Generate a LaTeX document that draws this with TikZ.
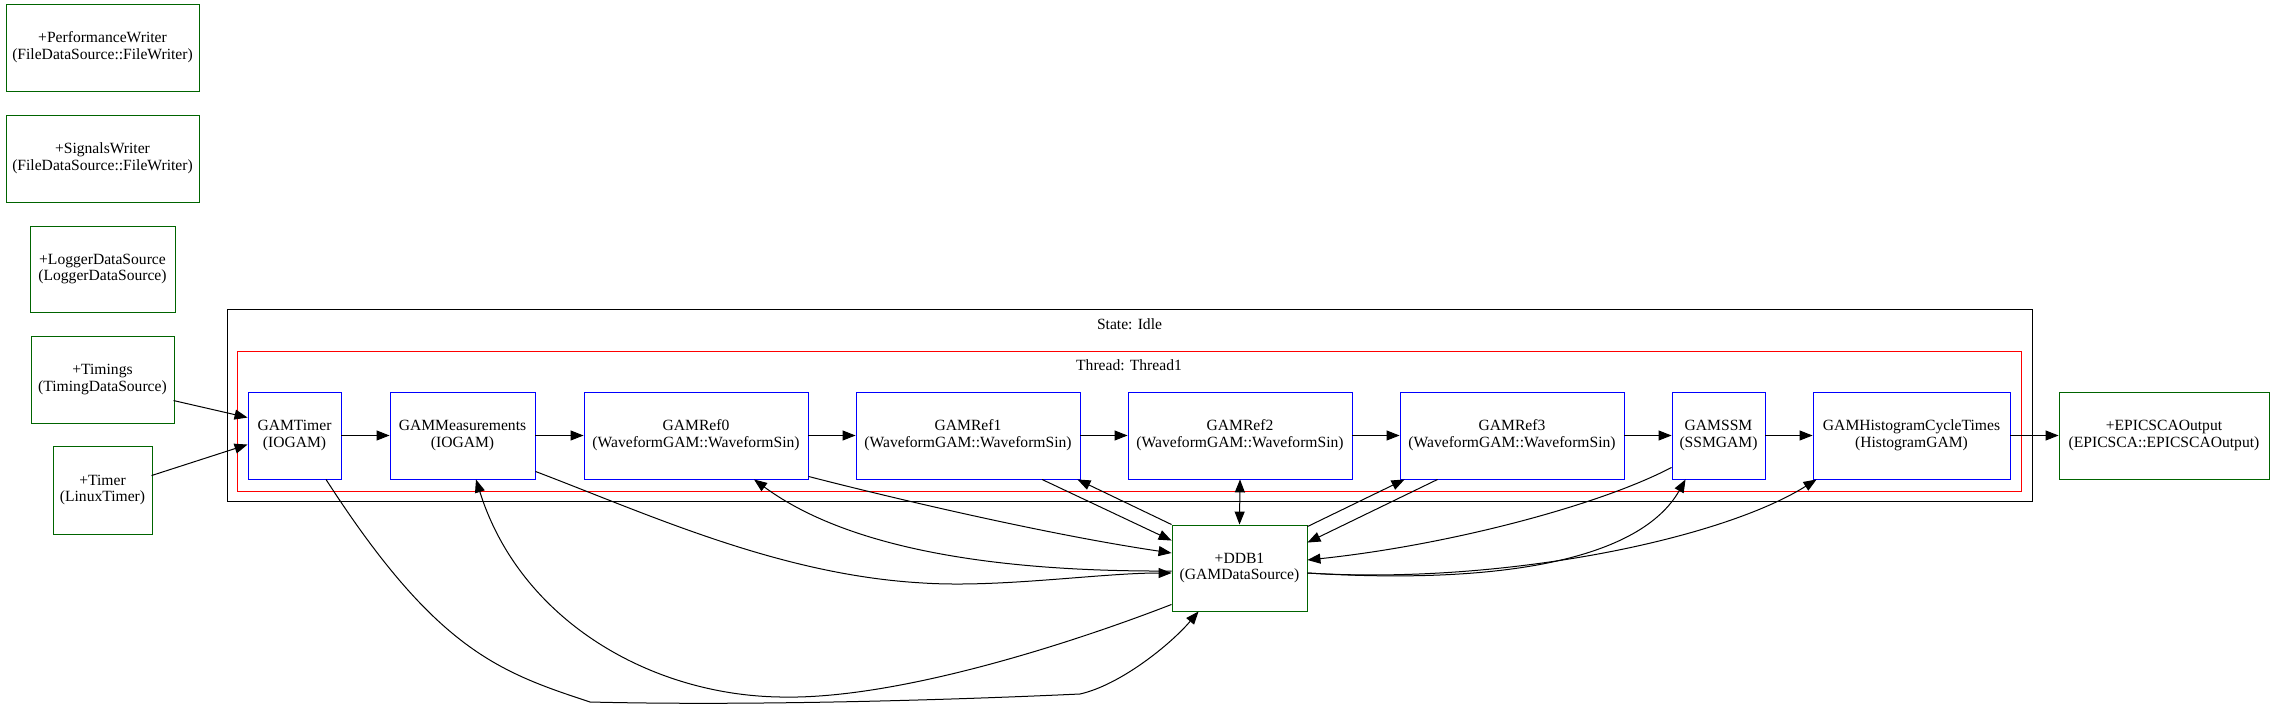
\documentclass[tikz,border=0pt]{standalone}
\usepackage{fontspec}
\setmainfont{Liberation Serif}
\usetikzlibrary{arrows.meta,calc}
\definecolor{dgreen}{HTML}{006400}
\begin{document}
\begin{tikzpicture}[x=1pt,y=-1pt,
  box/.style={draw, rectangle, inner sep=0pt, align=center, line width=0.9pt, font=\fontsize{15.6}{16.8}\selectfont},
  ds/.style={box, draw=dgreen},
  gam/.style={box, draw=blue, minimum height=87pt},
  frame/.style={draw, rectangle, inner sep=0pt, line width=0.9pt},
  lbl/.style={inner sep=0pt, font=\fontsize{15.6}{16.8}\selectfont},
  tip/.tip={Triangle[length=13pt,width=10pt]},
  edge/.style={line width=1pt, -tip},
]
\useasboundingbox[fill=white] (0,0) rectangle (2275,711);

% data sources on the left
\node[ds, minimum width=193pt, minimum height=87pt] (perf) at (102.5,47.5) {+PerformanceWriter\\(FileDataSource::FileWriter)};
\node[ds, minimum width=193pt, minimum height=87pt] (signals) at (102.5,158.5) {+SignalsWriter\\(FileDataSource::FileWriter)};
\node[ds, minimum width=145pt, minimum height=86pt] (logger) at (102.5,269) {+LoggerDataSource\\(LoggerDataSource)};
\node[ds, minimum width=143pt, minimum height=87pt] (timings) at (102.5,379.5) {+Timings\\(TimingDataSource)};
\node[ds, minimum width=99pt, minimum height=88pt] (timer) at (102.5,490) {+Timer\\(LinuxTimer)};

% clusters
\node[frame, minimum width=1805pt, minimum height=192pt] (state) at (1129.5,405) {};
\node[lbl] (statelbl) at (1129.5,324) {State: Idle};
\node[frame, draw=red, minimum width=1784pt, minimum height=140pt] (thread) at (1129,421) {};
\node[lbl] (threadlbl) at (1129,365) {Thread: Thread1};

% GAMs
\node[gam, minimum width=93pt] (gamtimer) at (294.5,435.5) {GAMTimer\\(IOGAM)};
\node[gam, minimum width=145pt] (gammeas) at (462.5,435.5) {GAMMeasurements\\(IOGAM)};
\node[gam, minimum width=224pt] (ref0) at (696,435.5) {GAMRef0\\(WaveformGAM::WaveformSin)};
\node[gam, minimum width=224pt] (ref1) at (968,435.5) {GAMRef1\\(WaveformGAM::WaveformSin)};
\node[gam, minimum width=224pt] (ref2) at (1240,435.5) {GAMRef2\\(WaveformGAM::WaveformSin)};
\node[gam, minimum width=224pt] (ref3) at (1512,435.5) {GAMRef3\\(WaveformGAM::WaveformSin)};
\node[gam, minimum width=93pt] (ssm) at (1718.5,435.5) {GAMSSM\\(SSMGAM)};
\node[gam, minimum width=197pt] (hist) at (1911.5,435.5) {GAMHistogramCycleTimes\\(HistogramGAM)};

\node[ds, minimum width=210pt, minimum height=87pt] (epics) at (2164,435.5) {+EPICSCAOutput\\(EPICSCA::EPICSCAOutput)};
\node[ds, minimum width=135pt, minimum height=86pt] (ddb) at (1239.5,568) {+DDB1\\(GAMDataSource)};

% inputs
\draw[edge] ($(timings.north west)+(143,65)$) -- ($(gamtimer.north west)+(0,26)$);
\draw[edge] ($(timer.north west)+(99,30)$) -- ($(gamtimer.north west)+(0,53)$);

% chain
\draw[edge] (gamtimer.east) -- (gammeas.west);
\draw[edge] (gammeas.east) -- (ref0.west);
\draw[edge] (ref0.east) -- (ref1.west);
\draw[edge] (ref1.east) -- (ref2.west);
\draw[edge] (ref2.east) -- (ref3.west);
\draw[edge] (ref3.east) -- (ssm.west);
\draw[edge] (ssm.east) -- (hist.west);
\draw[edge] (hist.east) -- (epics.west);

% DDB1 connections
\draw[edge] ($(gamtimer.south)+(31.5,0)$) .. controls (436,650) and (499,672) .. (590,702)
  .. controls (750,706) and (950,700) .. (1080,694)
  .. controls (1120,685) and (1170,645) .. ($(ddb.south west)+(27,0)$);
\draw[edge] ($(ddb.south west)+(0,-7)$) .. controls (1080,640) and (900,700) .. (780,697)
  .. controls (650,695) and (520,620) .. ($(gammeas.south)+(13.5,0)$);
\draw[edge] ($(gammeas.south east)+(0,-8)$) .. controls (650,515) and (780,575) .. (923,583)
  .. controls (1000,588) and (1100,573) .. ($(ddb.west)+(0,5)$);
\draw[edge] ($(ddb.west)+(0,3)$) .. controls (1000,572) and (850,550) .. ($(ref0.south)+(58,0)$);
\draw[edge] ($(ref0.south east)+(0,-3)$) .. controls (900,500) and (1050,535) .. ($(ddb.west)+(0,-15)$);
\draw[edge] ($(ref1.south)+(74,0)$) -- ($(ddb.north west)+(0,16)$);
\draw[edge] (ddb.north west) -- ($(ref1.south east)+(-3,0)$);
\draw[line width=1pt, tip-tip] (ref2.south) -- (ddb.north);
\draw[edge] ($(ddb.north east)+(0,2)$) -- ($(ref3.south west)+(5,0)$);
\draw[edge] ($(ref3.south west)+(38,0)$) -- ($(ddb.north east)+(0,18)$);
\draw[edge] ($(ssm.south west)+(0,-12)$) .. controls (1600,505) and (1450,545) .. ($(ddb.east)+(0,-8)$);
\draw[edge] ($(ddb.east)+(0,5)$) .. controls (1500,585) and (1640,560) .. ($(ssm.south west)+(14,0)$);
\draw[edge] ($(ddb.east)+(0,5)$) .. controls (1500,585) and (1720,540) .. ($(hist.south west)+(4,0)$);
\end{tikzpicture}
\end{document}
